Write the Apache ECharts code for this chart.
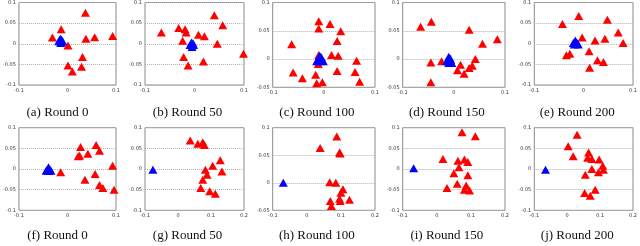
<!DOCTYPE html>
<html>
<head>
<meta charset="utf-8">
<script src="https://cdn.jsdelivr.net/npm/echarts@6/dist/echarts.min.js"></script>
<style>html,body{margin:0;padding:0;background:#fff}#c{width:640px;height:246px}</style>
</head>
<body>
<div id="c"></div>
<script>
// ---- data ----
var captions = ['(a) Round 0','(b) Round 50','(c) Round 100','(d) Round 150','(e) Round 200',
                '(f) Round 0','(g) Round 50','(h) Round 100','(i) Round 150','(j) Round 200'];
var xMin = [-0.1,-0.1,-0.1,-0.1,-0.1, -0.1,-0.1,-0.1,-0.1,-0.1];
var xMax = [0.1,0.1,0.1,0.1,0.1, 0.1,0.2,0.2,0.2,0.2];
var yMin = [-0.1,-0.1,-0.05,-0.05,-0.1, -0.1,-0.1,-0.05,-0.1,-0.1];
var yMax = [0.1,0.1,0.1,0.1,0.1, 0.1,0.1,0.1,0.1,0.1];

var redA = [[0.037,0.075],[-0.013,0.035],[-0.031,0.015],[0.001,-0.004],[0.038,0.012],[0.056,0.016],[0.093,0.019],[0.031,-0.032],[0.001,-0.053],[0.029,-0.056],[0.010,-0.067]];
var blueA = [[-0.014,0.012],[-0.018,0.006],[-0.010,0.006],[-0.014,0.002],[-0.016,0.010],[-0.012,0.009],[-0.013,0.004]];
var redB = [[0.040,0.069],[0.057,0.045],[-0.067,0.027],[-0.032,0.038],[-0.019,0.035],[-0.017,0.027],[-0.024,0.007],[0.008,0.022],[0.020,0.018],[0.046,0.0],[0.099,-0.024],[-0.022,-0.032],[0.018,-0.043],[-0.013,-0.053]];
var blueB = [[-0.006,0.003],[-0.009,-0.003],[-0.002,-0.003],[-0.005,-0.008],[-0.007,0.0],[-0.003,0.001]];
var redC = [[-0.010,0.067],[0.012,0.062],[-0.010,0.054],[0.033,0.049],[-0.063,0.026],[0.026,0.032],[0.015,0.007],[0.028,0.006],[0.064,-0.003],[-0.011,-0.009],[-0.010,0.007],[0.026,-0.021],[0.061,-0.023],[-0.060,-0.024],[-0.042,-0.034],[-0.016,-0.028],[-0.014,-0.043],[-0.003,-0.041],[0.070,-0.040]];
var blueC = [[-0.008,0.006],[-0.011,0.0],[-0.004,0.0],[-0.001,-0.004],[-0.008,-0.004],[-0.014,-0.004],[-0.005,0.003]];
var redD = [[-0.044,0.066],[-0.065,0.057],[0.030,0.052],[0.085,0.035],[0.056,0.027],[-0.045,-0.006],[-0.024,-0.004],[0.042,0.0],[0.013,-0.010],[0.036,-0.012],[0.030,-0.016],[0.007,-0.020],[0.020,-0.026],[-0.045,-0.041]];
var blueD = [[-0.010,0.004],[-0.012,-0.002],[-0.006,-0.002],[-0.004,-0.007],[-0.010,-0.007],[-0.014,-0.004],[-0.007,0.001]];
var redE = [[-0.010,0.067],[0.048,0.058],[-0.043,0.048],[0.070,0.027],[-0.003,0.015],[0.023,0.008],[0.043,0.012],[0.080,0.002],[0.011,-0.018],[-0.035,-0.028],[-0.028,-0.024],[0.028,-0.040],[0.040,-0.044],[0.012,-0.058]];
var blueE = [[-0.017,0.008],[-0.021,0.002],[-0.013,0.002],[-0.019,-0.002],[-0.011,-0.002],[-0.016,0.004]];
var redF = [[0.027,0.053],[0.059,0.058],[0.042,0.037],[0.066,0.044],[0.022,0.031],[0.025,0.032],[0.093,0.008],[-0.014,-0.008],[0.057,-0.012],[0.036,-0.026],[0.066,-0.039],[0.073,-0.046],[0.096,-0.050]];
var blueF = [[-0.039,0.004],[-0.042,-0.002],[-0.036,-0.002],[-0.039,-0.005],[-0.044,-0.004],[-0.034,-0.004]];
var redG = [[0.037,0.069],[0.060,0.061],[0.075,0.065],[0.080,0.058],[0.128,0.021],[0.105,0.008],[0.133,-0.006],[0.083,-0.002],[0.088,-0.014],[0.075,-0.026],[0.069,-0.046],[0.096,-0.054],[0.113,-0.060]];
var blueG = [[-0.076,-0.002]];
var redH = [[0.088,0.084],[0.039,0.063],[0.096,0.055],[0.098,0.053],[0.067,0.001],[0.085,0.0],[0.106,-0.012],[0.100,-0.018],[0.096,-0.029],[0.125,-0.031],[0.069,-0.033],[0.098,-0.033],[0.072,-0.042]];
var blueH = [[-0.069,0.0]];
var redI = [[0.074,0.089],[0.113,0.079],[0.018,0.024],[0.062,0.020],[0.081,0.023],[0.091,0.017],[0.065,0.004],[0.050,-0.010],[0.091,-0.015],[0.060,-0.036],[0.030,-0.046],[0.086,-0.040],[0.081,-0.050],[0.096,-0.052]];
var blueI = [[-0.068,0.002]];
var redJ = [[0.030,0.083],[0.003,0.055],[0.018,0.031],[0.065,0.040],[0.062,0.027],[0.075,0.024],[0.097,0.023],[0.108,0.008],[0.110,-0.002],[0.075,0.0],[0.095,-0.008],[0.055,-0.014],[0.053,-0.058],[0.070,-0.065],[0.085,-0.050]];
var blueJ = [[-0.066,-0.002]];

var reds = [redA,redB,redC,redD,redE,redF,redG,redH,redI,redJ];
var blues = [blueA,blueB,blueC,blueD,blueE,blueF,blueG,blueH,blueI,blueJ];

// ---- layout ----
var lefts = [13,145,272.7,402.7,534.3];
var widths = [103,99,102.3,102.3,100];
var tops = [1.7,1.7,1.7,1.7,1.7, 127.7,127.7,127.7,127.7,127.7];
var heights = [83.3,83.3,85.6,85.6,83.3, 82.6,82.6,82.6,82.6,82.6];
var capY = [106.5, 229.5];

var grids = [], xAxes = [], yAxes = [], series = [], titles = [];
for (var i = 0; i < 10; i++) {
  var col = i % 5, row = Math.floor(i / 5);
  grids.push({left: lefts[col], top: tops[i], width: widths[col], height: heights[i],
    show: true, borderColor: '#8a8a8a', borderWidth: 1, backgroundColor: 'transparent'});
  xAxes.push({type: 'value', gridIndex: i, min: xMin[i], max: xMax[i], interval: 0.1,
    axisLine: {show: false}, axisTick: {show: false}, splitLine: {show: false},
    axisLabel: {fontSize: 5, color: '#333', margin: 3, fontFamily: 'DejaVu Sans'}});
  yAxes.push({type: 'value', gridIndex: i, min: yMin[i], max: yMax[i], interval: 0.05,
    axisLine: {show: false}, axisTick: {show: false},
    splitLine: {show: true, lineStyle: {type: 'dotted', color: '#b0b0b0', width: 1}},
    axisLabel: {fontSize: 5, color: '#333', margin: 3, fontFamily: 'DejaVu Sans'}});
  series.push({type: 'scatter', xAxisIndex: i, yAxisIndex: i, data: reds[i],
    symbol: 'triangle', symbolSize: [9, 8], itemStyle: {color: '#ff0000', opacity: 1}});
  series.push({type: 'scatter', xAxisIndex: i, yAxisIndex: i, data: blues[i],
    symbol: 'triangle', symbolSize: [9, 8], itemStyle: {color: '#0000ff', opacity: 1}});
  titles.push({text: captions[i], left: lefts[col] + widths[col] / 2 - 7, top: capY[row],
    textAlign: 'center', padding: 0,
    textStyle: {fontSize: 13, fontWeight: 'normal', color: '#111', fontFamily: 'Liberation Serif'}});
}

var chart = echarts.init(document.getElementById('c'), null, {renderer: 'canvas'});
chart.setOption({animation: false, title: titles, grid: grids, xAxis: xAxes, yAxis: yAxes, series: series});
</script>
</body>
</html>
